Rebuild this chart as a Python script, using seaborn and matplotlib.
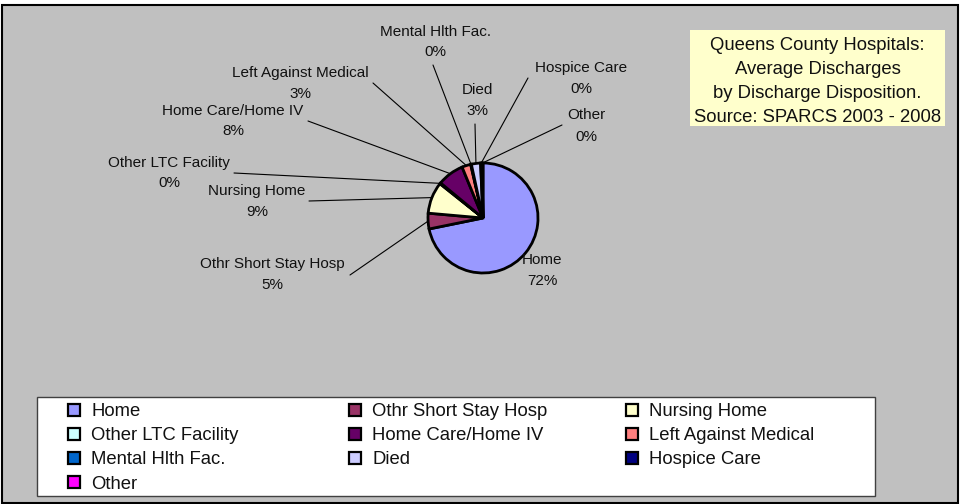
import numpy as np
import matplotlib
matplotlib.use("Agg")
import matplotlib.pyplot as plt
import seaborn as sns
from matplotlib.patches import Rectangle
from matplotlib.lines import Line2D
from matplotlib.legend import Legend

# ---------------- data ----------------
categories = ["Home", "Othr Short Stay Hosp", "Nursing Home", "Other LTC Facility",
              "Home Care/Home IV", "Left Against Medical", "Mental Hlth Fac.",
              "Died", "Hospice Care", "Other"]
shares = [71.8, 4.6, 9.3, 0.3, 7.8, 2.6, 0.2, 2.7, 0.4, 0.3]
colors = ["#9999FF", "#993366", "#FFFFCC", "#CCFFFF", "#660066",
          "#FF8080", "#0066CC", "#CCCCFF", "#000080", "#FF00FF"]
note_lines = ["Queens County Hospitals:", "Average Discharges",
              "by Discharge Disposition.", "Source: SPARCS 2003 - 2008"]

# ---------------- layout (pixel coords, y from top) ----------------
W, H = 960, 504
PIE_C = (483, 218)
PIE_R = 55
label_layout = {  # name: (center x, y of name, y of percent)
    "Home": (542, 260, 281),
    "Othr Short Stay Hosp": (272, 264, 285),
    "Nursing Home": (257, 191, 212),
    "Other LTC Facility": (169, 163, 183),
    "Home Care/Home IV": (233, 111, 131),
    "Left Against Medical": (300, 73, 94),
    "Mental Hlth Fac.": (435, 32, 52),
    "Died": (477, 90, 111),
    "Hospice Care": (581, 68, 89),
    "Other": (586, 115, 137),
}
leader_start = {
    "Othr Short Stay Hosp": (350, 275),
    "Nursing Home": (309, 201),
    "Other LTC Facility": (234, 173),
    "Home Care/Home IV": (308, 121),
    "Left Against Medical": (373, 83),
    "Mental Hlth Fac.": (433, 65),
    "Died": (475, 124),
    "Hospice Care": (528, 78),
    "Other": (562, 125),
}


def Y(y):
    return H - y


sns.set_theme(style="white")
plt.rcParams["font.family"] = ["Liberation Sans", "DejaVu Sans"]

fig = plt.figure(figsize=(W / 100, H / 100), dpi=100, facecolor="white")
ax = fig.add_axes([0, 0, 1, 1])

wedges, _ = ax.pie(shares, colors=colors, startangle=90, counterclock=False,
                   center=(PIE_C[0], Y(PIE_C[1])), radius=PIE_R,
                   wedgeprops=dict(edgecolor="black", linewidth=2.0))
for w in wedges:
    w.set_zorder(3)

ax.set_xlim(0, W)
ax.set_ylim(0, H)
ax.set_aspect("equal")
ax.axis("off")

# chart area background
ax.add_patch(Rectangle((2, Y(503)), 956, 498, facecolor="#C0C0C0",
                       edgecolor="black", lw=1.5, zorder=0))

# labels
total = float(np.sum(shares))
pcts = [int(round(v / total * 100)) for v in shares]
for name, pct, w in zip(categories, pcts, wedges):
    cx, yn, yp = label_layout[name]
    ax.text(cx, Y(yn), name, ha="center", va="center", fontsize=11,
            color="#111111", zorder=5)
    ax.text(cx, Y(yp), f"{pct}%", ha="center", va="center", fontsize=11,
            color="#111111", zorder=5)
    if name in leader_start:
        th = np.deg2rad((w.theta1 + w.theta2) / 2)
        ex = PIE_C[0] + PIE_R * np.cos(th)
        ey = Y(PIE_C[1]) + PIE_R * np.sin(th)
        sx, sy = leader_start[name]
        ax.plot([sx, ex], [Y(sy), ey], color="black", lw=0.8, zorder=2)

# note box
ax.add_patch(Rectangle((690, Y(126)), 255, 96, facecolor="#FFFFCC",
                       edgecolor="none", zorder=1))
for i, line in enumerate(note_lines):
    ax.text(817.5, Y(45 + i * 24), line, ha="center", va="center",
            fontsize=13.3, color="#111111", zorder=5)

# legend box
ax.add_patch(Rectangle((37, Y(496)), 838, 99, facecolor="white",
                       edgecolor="#404040", lw=1.0, zorder=1))
col_x = [67, 348, 625]
for c in range(3):
    idx = [i for i in range(len(categories)) if i % 3 == c]
    handles = [Line2D([], [], marker="s", ls="", markerfacecolor=colors[i],
                      markeredgecolor="black", markersize=8.2,
                      markeredgewidth=1.6) for i in idx]
    leg = Legend(ax, handles, [categories[i] for i in idx], loc="upper left",
                 bbox_to_anchor=(col_x[c], Y(403)),
                 bbox_transform=ax.transData, frameon=False,
                 borderpad=0, borderaxespad=0, handlelength=0.8,
                 handletextpad=0.5, labelspacing=0.39, fontsize=13.3)
    for t in leg.get_texts():
        t.set_color("#111111")
    leg.set_zorder(6)
    ax.add_artist(leg)

fig.savefig("out.png", dpi=100, facecolor=fig.get_facecolor())
